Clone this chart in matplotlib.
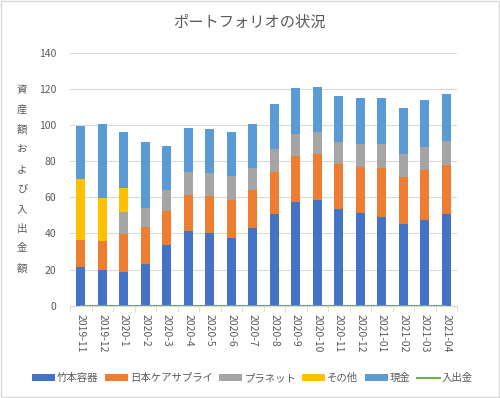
import matplotlib.pyplot as plt
import numpy as np
from matplotlib.patches import Rectangle

plt.rcParams['font.family'] = ['Noto Sans CJK JP', 'DejaVu Sans']

months = ['2019-11', '2019-12', '2020-1', '2020-2', '2020-3', '2020-4', '2020-5',
          '2020-6', '2020-7', '2020-8', '2020-9', '2020-10', '2020-11', '2020-12',
          '2021-01', '2021-02', '2021-03', '2021-04']

# segment sizes
takemoto = [21.2, 19.9, 18.8, 23.1, 33.8, 41.3, 40.0, 37.6, 43.2, 50.7, 57.6, 58.5,
            53.3, 51.5, 49.3, 45.2, 47.4, 50.6]
nihon_care = [15.0, 16.1, 20.7, 20.3, 18.6, 20.0, 20.5, 20.9, 20.8, 23.5, 25.2, 25.4,
              25.1, 25.3, 27.1, 26.0, 27.7, 27.1]
planet = [0.0, 0.0, 12.5, 10.7, 11.6, 12.7, 13.1, 13.1, 12.0, 12.3, 12.4, 12.2,
          12.2, 12.7, 13.1, 12.7, 12.7, 13.6]
other = [33.9, 23.6, 13.3, 0.0, 0.0, 0.0, 0.0, 0.0, 0.0, 0.0, 0.0, 0.0,
         0.0, 0.0, 0.0, 0.0, 0.0, 0.0]
cash = [29.3, 40.8, 31.0, 36.5, 24.4, 24.5, 24.0, 24.7, 24.7, 25.3, 25.1, 25.1,
        25.3, 25.1, 25.1, 25.3, 25.9, 26.0]
flows = [0] * 18

series = [('竹本容器', takemoto, '#4472C4'),
          ('日本ケアサプライ', nihon_care, '#ED7D31'),
          ('プラネット', planet, '#A5A5A5'),
          ('その他', other, '#FFC000'),
          ('現金', cash, '#5B9BD5')]

text_col = '#595959'
grid_col = '#D9D9D9'

fig = plt.figure(figsize=(5, 3.98), dpi=100)
ax = fig.add_axes([0.14, 0.232, 0.774, 0.636])

x = np.arange(len(months))
bottom = np.zeros(len(months))
handles = []
for name, vals, col in series:
    h = ax.bar(x, vals, 0.42, bottom=bottom, color=col, label=name, zorder=2)
    handles.append(h)
    bottom += np.array(vals)
line, = ax.plot(x, flows, color='#70AD47', lw=1.5, label='入出金', zorder=3)
handles.append(line)

ax.set_xlim(-0.5, len(months) - 0.5)
ax.set_ylim(0, 140)
ax.set_yticks(range(0, 141, 20))
ax.grid(axis='y', color=grid_col, lw=0.8, zorder=0)
for s in ['top', 'right', 'left']:
    ax.spines[s].set_visible(False)
ax.spines['bottom'].set_color(grid_col)
ax.tick_params(axis='y', length=0, labelsize=7.5, labelcolor=text_col, pad=10)
ax.set_xticks(x)
ax.set_xticklabels(months, rotation=-90, fontsize=7.5, color=text_col)
ax.tick_params(axis='x', which='major', length=0, pad=6)
ax.set_xticks(np.arange(-0.5, len(months), 1), minor=True)
ax.tick_params(axis='x', which='minor', length=4, color=grid_col)

fig.text(0.498, 0.943, 'ポートフォリオの状況', ha='center', va='center',
         fontsize=11, color=text_col)

ylabel = '資産額および入出金額'
for i, ch in enumerate(ylabel):
    fig.text(0.044, 1 - (90 + i * 19.8) / 398, ch, ha='center', va='center',
             fontsize=7.5, color=text_col)

labels = [h.get_label() for h in handles]
fig.legend(handles, labels, loc='center', bbox_to_anchor=(0.505, 0.05), ncol=6,
           frameon=False, fontsize=7.5, handlelength=2.2, handleheight=0.6,
           handletextpad=0.2, columnspacing=0.6, labelcolor=text_col)

fig.patches.append(Rectangle((0.002, 0.002), 0.996, 0.996, transform=fig.transFigure,
                             fill=False, edgecolor=grid_col, lw=1))

fig.savefig('out.png', dpi=100)
